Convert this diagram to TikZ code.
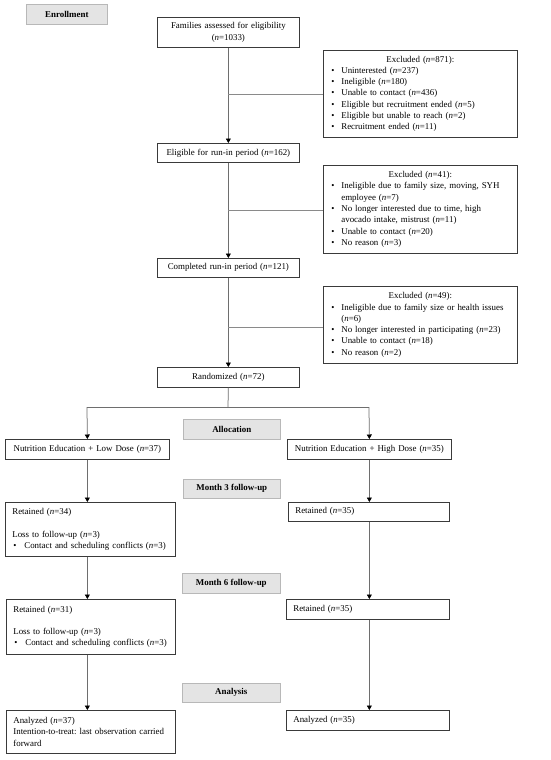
\documentclass[tikz,border=0pt]{standalone}
\usepackage{fontspec}
\setmainfont{Liberation Serif}
\usetikzlibrary{arrows.meta}
\definecolor{boxc}{HTML}{3A3A3A}
\definecolor{linec}{HTML}{6E6E6E}
\definecolor{hlinec}{HTML}{8A8A8A}
\definecolor{labf}{HTML}{E4E4E4}
\definecolor{labc}{HTML}{B8B8B8}
\newcommand{\fs}{\frenchspacing\fontsize{8.9}{11.3}\selectfont}
\newcommand{\nn}{\textit{n}}
\newcommand{\bul}[1]{\par\noindent\hangindent=11pt\hangafter=1\makebox[11pt][l]{\hspace{1pt}\textbullet}#1}
\begin{document}
\begin{tikzpicture}[x=1pt,y=-1pt,
  box/.style={draw=boxc, line width=0.7pt, anchor=north west, inner xsep=7pt, inner ysep=1pt, font=\fs, fill=white},
  lab/.style={draw=labc, fill=labf, line width=0.6pt, anchor=north west, font=\fs\bfseries, inner sep=0pt, align=center},
  ln/.style={draw=linec, line width=0.75pt},
  hl/.style={draw=hlinec, line width=0.6pt},
  arr/.style={ln, -{Triangle[width=5pt,length=4.5pt,color=black]}}]
\useasboundingbox (0,0) rectangle (550,760);
\fill[white] (0,0) rectangle (550,760);

% phase labels
\node[lab, minimum width=81pt, minimum height=20pt] (enr) at (26,4) {Enrollment};
\node[lab, minimum width=97pt, minimum height=20pt] (alloc) at (183,419) {Allocation};
\node[lab, minimum width=97pt, minimum height=19pt] (m3) at (183,479) {Month 3 follow-up};
\node[lab, minimum width=98pt, minimum height=20pt] (m6) at (182,573) {Month 6 follow-up};
\node[lab, minimum width=98pt, minimum height=19pt] (ana) at (182,683) {Analysis};

% main column
\node[box, text width=128pt, minimum height=30pt, align=center] (fam) at (157,17) {Families assessed for eligibility\\(\nn=1033)};
\node[box, text width=128pt, minimum height=19pt, align=center] (elig) at (157,143) {Eligible for run-in period (\nn=162)};
\node[box, text width=128pt, minimum height=19pt, align=center] (comp) at (157,258) {Completed run-in period (\nn=121)};
\node[box, text width=128pt, minimum height=20pt, align=center] (rand) at (157,367) {Randomized (\nn=72)};

% exclusion boxes
\node[box, text width=180pt, minimum height=87pt, align=left] (ex1) at (323,50) {{\centering Excluded (\nn=871):\par}
\bul{Uninterested (\nn=237)}
\bul{Ineligible (\nn=180)}
\bul{Unable to contact (\nn=436)}
\bul{Eligible but recruitment ended (\nn=5)}
\bul{Eligible but unable to reach (\nn=2)}
\bul{Recruitment ended (\nn=11)}};
\node[box, text width=180pt, minimum height=88pt, align=left] (ex2) at (323,165) {{\centering Excluded (\nn=41):\par}
\bul{Ineligible due to family size, moving, SYH\newline employee (\nn=7)}
\bul{No longer interested due to time, high\newline avocado intake, mistrust (\nn=11)}
\bul{Unable to contact (\nn=20)}
\bul{No reason (\nn=3)}};
\node[box, text width=180pt, minimum height=77pt, align=left] (ex3) at (323,286) {{\centering Excluded (\nn=49):\par}
\bul{Ineligible due to family size or health issues\newline (\nn=6)}
\bul{No longer interested in participating (\nn=23)}
\bul{Unable to contact (\nn=18)}
\bul{No reason (\nn=2)}};

% arms
\node[box, text width=150pt, minimum height=20pt, align=center] (low) at (5,439) {Nutrition Education + Low Dose (\nn=37)};
\node[box, text width=150pt, minimum height=20pt, align=center] (high) at (287,439) {Nutrition Education + High Dose (\nn=35)};

\node[box, text width=156pt, minimum height=54pt, align=left] (r34) at (5,502) {Retained (\nn=34)\par\vspace{11.3pt}Loss to follow-up (\nn=3)
\bul{\hspace{1pt}Contact and scheduling conflicts (\nn=3)}};
\node[box, text width=147pt, minimum height=19pt, align=left] (r35a) at (288,502) {Retained (\nn=35)};

\node[box, text width=155pt, minimum height=55pt, align=left] (r31) at (6,599) {Retained (\nn=31)\par\vspace{11.3pt}Loss to follow-up (\nn=3)
\bul{\hspace{1pt}Contact and scheduling conflicts (\nn=3)}};
\node[box, text width=149pt, minimum height=20pt, align=left] (r35b) at (286,599) {Retained (\nn=35)};

\node[box, text width=155pt, minimum height=43pt, align=left] (a37) at (6,710) {Analyzed (\nn=37)\\Intention-to-treat: last observation carried\\forward};
\node[box, text width=149pt, minimum height=20pt, align=left] (a35) at (286,710) {Analyzed (\nn=35)};

% connectors, enrollment
\coordinate (e1) at (228,94);
\coordinate (e2) at (228,210);
\coordinate (e3) at (228,327);
\draw[arr] (fam.south) -- (elig.north);
\draw[arr] (elig.south) -- (comp.north);
\draw[arr] (comp.south) -- (rand.north);
\draw[hl] (e1) -- (e1 -| ex1.west);
\draw[hl] (e2) -- (e2 -| ex2.west);
\draw[hl] (e3) -- (e3 -| ex3.west);

% split
\coordinate (sp) at (228,407);
\coordinate (sl) at (87,407);
\coordinate (sr) at (369,407);
\draw[ln] (rand.south) -- (sp);
\draw[ln] (sl) -- (sr);
\draw[arr] (sl) -- (low.north);
\draw[arr] (sr) -- (high.north);

% arms connectors
\draw[arr] (low.south) -- (low.south |- r34.north);
\draw[arr] (low.south |- r34.south) -- (low.south |- r31.north);
\draw[arr] (low.south |- r31.south) -- (low.south |- a37.north);
\draw[arr] (high.south) -- (high.south |- r35a.north);
\draw[arr] (high.south |- r35a.south) -- (high.south |- r35b.north);
\draw[arr] (high.south |- r35b.south) -- (high.south |- a35.north);
\end{tikzpicture}
\end{document}
